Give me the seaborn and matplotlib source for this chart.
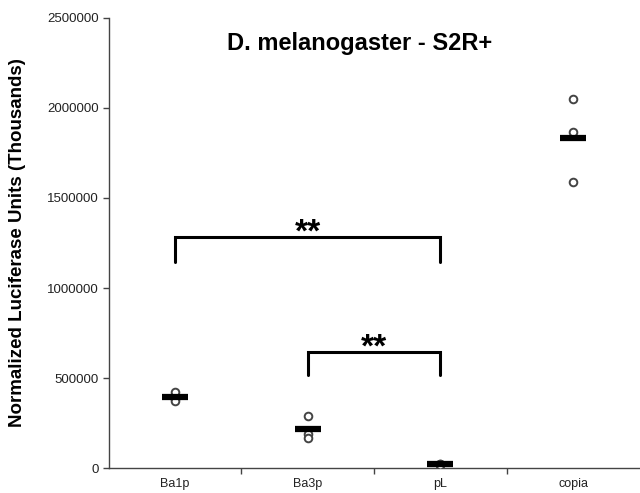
import pandas as pd
import matplotlib
matplotlib.use('Agg')
import matplotlib.pyplot as plt
import seaborn as sns
from matplotlib.ticker import FixedLocator

# Data
constructs = ['Ba1p', 'Ba3p', 'pL', 'copia']
ba1p_vals = [425000, 385000, 375000]
ba3p_vals = [289000, 189000, 167000]
pl_vals = [25000, 20000, 15000]
copia_vals = [2050000, 1867000, 1589000]

# significance brackets: (left group, right group, bar height, leg bottom)
brackets = [('Ba1p', 'pL', 1283000, 1144000), ('Ba3p', 'pL', 644000, 517000)]

df = pd.DataFrame({
    'construct': ['Ba1p'] * 3 + ['Ba3p'] * 3 + ['pL'] * 3 + ['copia'] * 3,
    'value': ba1p_vals + ba3p_vals + pl_vals + copia_vals,
})

sns.set_style('white')
plt.rcParams['font.family'] = ['Liberation Sans', 'DejaVu Sans']
plt.rcParams['text.color'] = 'black'

fig = plt.figure(figsize=(6.4, 4.93), dpi=100)
ax = fig.add_axes([0.170, 0.0507, 0.829, 0.9128])

# individual replicates as open circles
sns.stripplot(data=df, x='construct', y='value', order=constructs, jitter=False,
              color='white', edgecolor='#444444', linewidth=1.4, size=5.5, ax=ax, zorder=3)

# mean as a thick black dash
sns.pointplot(data=df, x='construct', y='value', order=constructs, estimator='mean',
              errorbar=None, color='black', linestyle='none', marker='_',
              markersize=19, markeredgewidth=4.5, ax=ax, zorder=4)

# significance brackets
for left, right, top, bottom in brackets:
    x0, x1 = constructs.index(left), constructs.index(right)
    ax.plot([x0, x0, x1, x1], [bottom, top, top, bottom], color='black', lw=2.2,
            solid_joinstyle='miter', zorder=2)
    ax.text((x0 + x1) / 2, top - 62000, '**', ha='center', va='bottom',
            fontsize=24, fontweight='bold', color='black')

ax.set_xlim(-0.5, 3.5)
ax.set_ylim(0, 2500000)
ax.set_yticks([0, 500000, 1000000, 1500000, 2000000, 2500000])
ax.set_yticklabels(['0', '500000', '1000000', '1500000', '2000000', '2500000'], fontsize=9.5)
ax.set_xticks(range(len(constructs)))
ax.set_xticklabels(constructs, fontsize=9)
ax.tick_params(axis='x', which='major', length=0, pad=7, labelcolor='#222222')
ax.xaxis.set_minor_locator(FixedLocator([0.5, 1.5, 2.5]))
ax.tick_params(axis='x', which='minor', length=4, direction='out', color='#444444', width=1)
ax.tick_params(axis='y', length=4, direction='out', color='#444444', width=1, pad=3,
               labelcolor='#222222')
ax.tick_params(left=True, bottom=True, which='both')

for s in ['top', 'right']:
    ax.spines[s].set_visible(False)
for s in ['left', 'bottom']:
    ax.spines[s].set_color('#444444')
    ax.spines[s].set_linewidth(1)

ax.set_xlabel('')
ax.set_ylabel('Normalized Luciferase Units (Thousands)', fontsize=13.5, fontweight='bold',
              color='black', va='center')
ax.yaxis.set_label_coords(-0.172, 0.5)
ax.text(0.473, 0.968, 'D. melanogaster - S2R+', transform=ax.transAxes, ha='center', va='top',
        fontsize=17, fontweight='bold', color='black')

fig.savefig('out.png', dpi=100)
